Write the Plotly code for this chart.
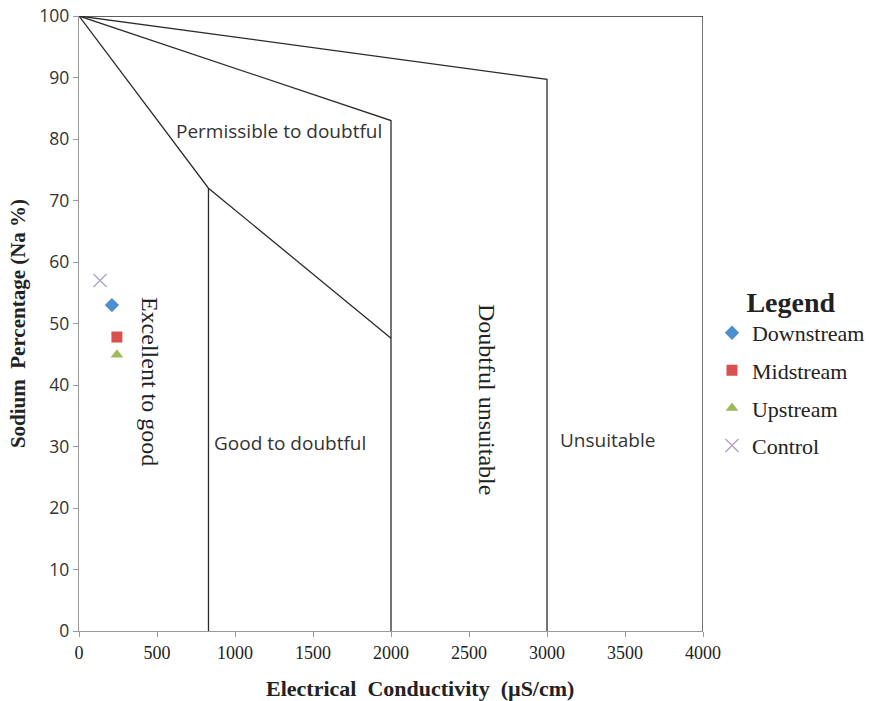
import plotly.graph_objects as go

# Sample points (EC µS/cm, Na %)
series_names = ["Downstream", "Midstream", "Upstream", "Control"]
ec_values = [211, 243, 243, 135]
na_values = [53, 47.8, 44.9, 57]
colors = ["#4A8FCF", "#D9504E", "#9BBB59", "#B3A6CC"]
symbols = ["diamond", "square", "triangle-up", "x-thin-open"]

# Wilcox diagram boundaries
frame_x = [0, 4000, 4000]
frame_y = [100, 100, 0]
unsuitable_x = [0, 3000, 3000]
unsuitable_y = [100, 89.7, 0]
doubtful_x = [0, 2000, 2000]
doubtful_y = [100, 83, 0]
good_x = [0, 830, 2000]
good_y = [100, 72, 47.6]
good_v_x = [830, 830]
good_v_y = [72, 0]

# Zone labels
zone_labels = ["Permissible to doubtful", "Good to doubtful", "Unsuitable"]
zone_x = [1282, 1355, 3385]
zone_y = [81.3, 30.6, 31]
rot_labels = ["Excellent to good", "Doubtful unsuitable"]
rot_x = [455, 2620]
rot_y = [40.5, 37.6]

x_ticks = [0, 500, 1000, 1500, 2000, 2500, 3000, 3500, 4000]
y_ticks = [0, 10, 20, 30, 40, 50, 60, 70, 80, 90, 100]

fig = go.Figure()
line_style = dict(color="#2b2b2b", width=1.3)
for xs, ys in [(frame_x, frame_y), (unsuitable_x, unsuitable_y), (doubtful_x, doubtful_y),
               (good_x, good_y), (good_v_x, good_v_y)]:
    fig.add_trace(go.Scatter(x=xs, y=ys, mode="lines", line=line_style,
                             showlegend=False, hoverinfo="skip", cliponaxis=False))

for i, name in enumerate(series_names):
    mk = dict(symbol=symbols[i], color=colors[i], size=11)
    if symbols[i] == "x-thin-open":
        mk = dict(symbol="x-thin-open", color=colors[i], size=13, line=dict(color=colors[i], width=1.5))
    fig.add_trace(go.Scatter(x=[ec_values[i]], y=[na_values[i]], mode="markers", name=name,
                             marker=mk, legendgroup=name, cliponaxis=False))

for t, x, y in zip(zone_labels, zone_x, zone_y):
    fig.add_annotation(x=x, y=y, text=t, showarrow=False,
                       font=dict(family="Open Sans", size=19, color="#333"))
for t, x, y in zip(rot_labels, rot_x, rot_y):
    fig.add_annotation(x=x, y=y, text=t, showarrow=False, textangle=90,
                       font=dict(family="Liberation Serif", size=24, color="#222"))

# X axis title (offset to the right, as in the original)
fig.add_annotation(x=0.5465, y=-0.0927, xref="paper", yref="paper", showarrow=False,
                   xanchor="center", yanchor="middle",
                   text="<b>Electrical  Conductivity  (µS/cm)</b>",
                   font=dict(family="Liberation Serif", size=22, color="#222"))

fig.update_layout(
    width=869, height=701,
    margin=dict(l=79, r=166, t=16, b=70, autoexpand=False),
    plot_bgcolor="white", paper_bgcolor="white",
    font=dict(family="Liberation Serif", size=16, color="#222"),
    xaxis=dict(range=[0, 4000], tickvals=x_ticks, showgrid=False, zeroline=False,
               showline=True, linecolor="#999", linewidth=1.3, ticks="outside", ticklen=5,
               tickcolor="#999", automargin=True, tickfont=dict(size=18)),
    yaxis=dict(range=[0, 100], tickvals=y_ticks, showgrid=False, zeroline=False,
               showline=True, linecolor="#999", linewidth=1.3, ticks="outside", ticklen=5,
               tickcolor="#999", automargin=True,
               tickfont=dict(family="Open Sans", size=17.5, color="#333"),
               title=dict(text="<b>Sodium  Percentage (Na %)</b>", standoff=7,
                          font=dict(size=21))),
    legend=dict(x=1.0144, y=0.578, xanchor="left", yanchor="top",
                title=dict(text="<b>Legend</b>", side="top center", font=dict(size=28)),
                font=dict(size=22), tracegroupgap=6, itemwidth=30, traceorder="grouped"),
)

fig.write_html("out.html", config={"displayModeBar": False},
               post_script="document.body.style.margin='0';")
